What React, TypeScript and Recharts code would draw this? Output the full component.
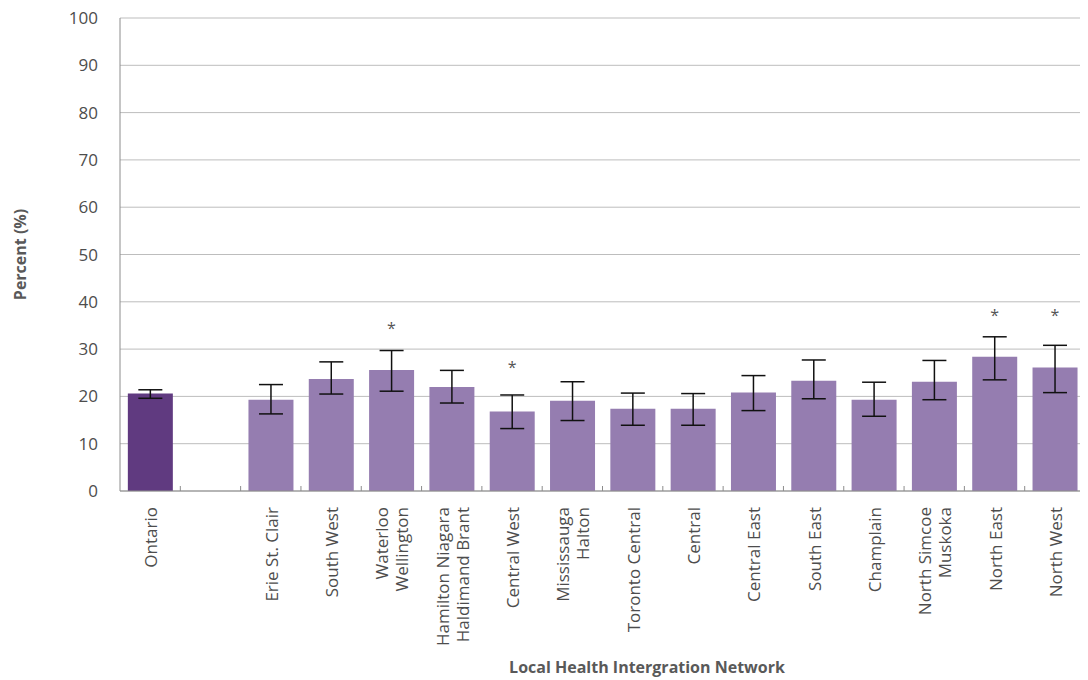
import React from 'react';
import {
  ComposedChart,
  Bar,
  Scatter,
  ErrorBar,
  XAxis,
  YAxis,
  CartesianGrid,
  Cell
} from 'recharts';

const regions = [
  'Ontario', '', 'Erie St. Clair', 'South West', 'Waterloo\nWellington',
  'Hamilton Niagara\nHaldimand Brant', 'Central West', 'Mississauga\nHalton',
  'Toronto Central', 'Central', 'Central East', 'South East', 'Champlain',
  'North Simcoe\nMuskoka', 'North East', 'North West'
];
const percent = [20.6, null, 19.3, 23.7, 25.6, 22.0, 16.8, 19.1, 17.4, 17.4, 20.8, 23.3, 19.3, 23.1, 28.4, 26.1];
const lowerCI = [19.6, null, 16.3, 20.5, 21.1, 18.6, 13.2, 14.9, 13.9, 13.9, 17.0, 19.5, 15.8, 19.3, 23.5, 20.8];
const upperCI = [21.4, null, 22.5, 27.3, 29.7, 25.5, 20.3, 23.1, 20.7, 20.6, 24.4, 27.7, 23.0, 27.6, 32.6, 30.8];
// where the "significantly different" asterisk sits
const starAt = [null, null, null, null, 35.0, null, 26.9, null, null, null, null, null, null, null, 37.9, 37.9];
const yTicks = [0, 10, 20, 30, 40, 50, 60, 70, 80, 90, 100];

const W = 1088;
const H = 680;
const M = { top: 18, right: 3, left: 0, bottom: 0 };
const Y_W = 120;
const X_H = 189;
const BAND = (W - Y_W - M.right) / regions.length;

const FONT = '"Open Sans", "Noto Sans", sans-serif';
const TEXT = '#4d4d4d';

const data = regions.map((name, i) => ({
  name,
  value: percent[i],
  err: percent[i] == null ? undefined : [percent[i]! - lowerCI[i]!, upperCI[i]! - percent[i]!],
  star: starAt[i]
}));

const CategoryTick = ({ x, y, payload }: any) => {
  const lines = String(payload.value).split('\n');
  return (
    <g>
      <line x1={x + BAND / 2} x2={x + BAND / 2} y1={y} y2={y - 5} stroke="#8c8c8c" />
      <g transform={`translate(${x},${y + 16}) rotate(-90)`}>
        <text textAnchor="end" dominantBaseline="central" fontFamily={FONT} fontSize={17} fill={TEXT}>
          {lines.map((l, i) => (
            <tspan key={i} x={0} y={(i - (lines.length - 1) / 2) * 20}>{l}</tspan>
          ))}
        </text>
      </g>
    </g>
  );
};

const Star = ({ cx, cy, payload }: any) => {
  if (payload == null || payload.star == null || cy == null || isNaN(cy)) return <g />;
  return (
    <text x={cx} y={cy + 9} textAnchor="middle" fontFamily={FONT} fontSize={16} fill="#555">*</text>
  );
};

export default function App() {
  return (
    <div style={{ width: W, height: H, margin: '-8px 0 0 -8px' }}>
      <ComposedChart width={W} height={H} data={data} margin={M} barCategoryGap="13%">
        <CartesianGrid vertical={false} stroke="#bdbdbd" />
        <XAxis
          dataKey="name"
          interval={0}
          height={X_H}
          tickSize={0}
          tickMargin={0}
          tickLine={false}
          tick={<CategoryTick />}
          stroke="#8c8c8c"
          label={({ viewBox }: any) => (
            <text
              x={viewBox.x + 527}
              y={viewBox.y + viewBox.height - 7}
              textAnchor="middle"
              fontFamily={FONT}
              fontWeight="bold"
              fontSize={16}
              fill="#595959"
            >
              Local Health Intergration Network
            </text>
          )}
        />
        <YAxis
          domain={[0, 100]}
          ticks={yTicks}
          width={Y_W}
          tickLine={false}
          tickMargin={16}
          stroke="#8c8c8c"
          tick={{ fontFamily: FONT, fontSize: 17, fill: TEXT }}
          label={({ viewBox }: any) => (
            <text
              transform={`translate(${26},${viewBox.y + viewBox.height / 2}) rotate(-90)`}
              textAnchor="middle"
              fontFamily={FONT}
              fontWeight="bold"
              fontSize={16}
              fill="#595959"
            >
              Percent (%)
            </text>
          )}
        />
        <Bar dataKey="value" isAnimationActive={false}>
          {data.map((d, i) => (
            <Cell key={`c-${i}`} fill={i === 0 ? '#603a80' : '#957db0'} />
          ))}
          <ErrorBar dataKey="err" width={12} stroke="#111" strokeWidth={1.5} />
        </Bar>
        <Scatter dataKey="star" shape={<Star />} isAnimationActive={false} />
      </ComposedChart>
    </div>
  );
}
